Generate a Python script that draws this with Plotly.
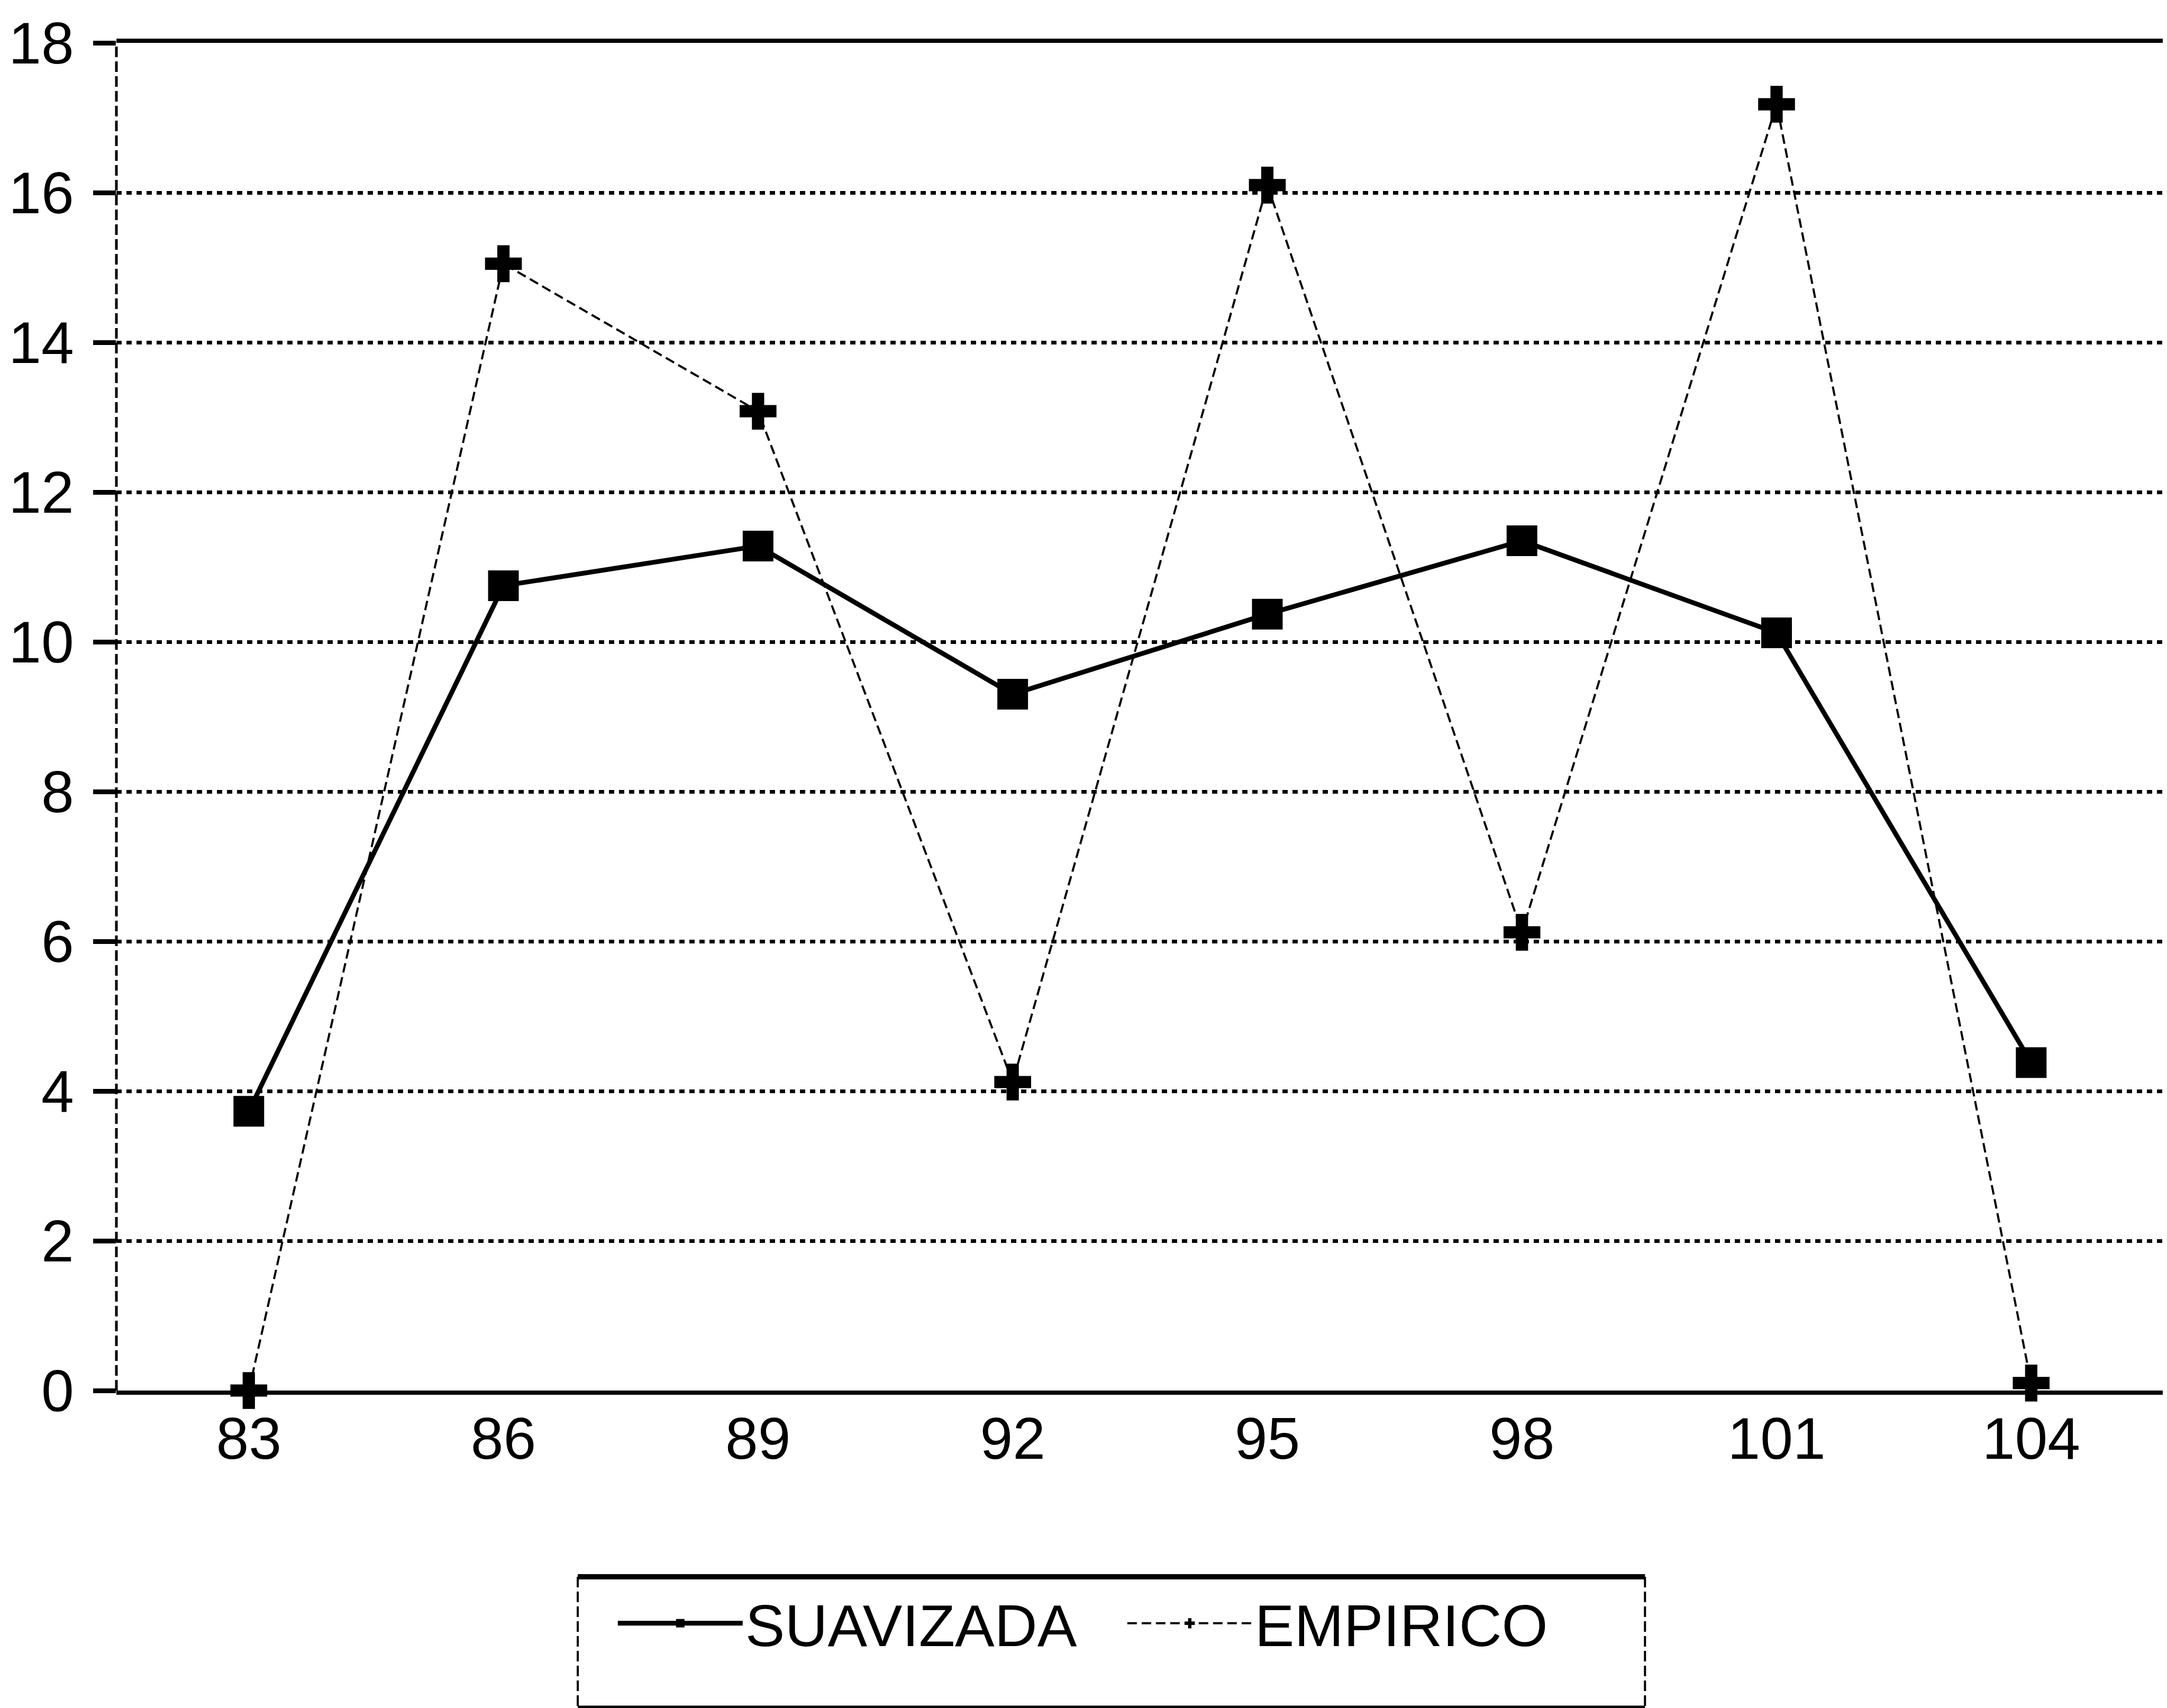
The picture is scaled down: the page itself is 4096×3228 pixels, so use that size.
import plotly.graph_objects as go

# ---- data ----
periodos = [83, 86, 89, 92, 95, 98, 101, 104]
suavizada = [3.73, 10.75, 11.28, 9.3, 10.37, 11.35, 10.12, 4.38]
empirico = [0.0, 15.05, 13.08, 4.12, 16.1, 6.12, 17.18, 0.1]
y_ticks = [0, 2, 4, 6, 8, 10, 12, 14, 16, 18]
x_ticks = [83, 86, 89, 92, 95, 98, 101, 104]
nombres = ["SUAVIZADA", "EMPIRICO"]

W, H = 4096, 3228
ML, MR, MT, MB = 199, 8, 73, 608
FONT = "Liberation Sans, Arial, Helvetica, sans-serif"

fig = go.Figure()
fig.add_trace(go.Scatter(
    x=periodos, y=suavizada, name=nombres[0], mode="lines+markers",
    line=dict(color="black", width=9),
    marker=dict(symbol="square", size=58, color="black"),
    cliponaxis=False,
))
fig.add_trace(go.Scatter(
    x=periodos, y=empirico, name=nombres[1], mode="lines+markers",
    line=dict(color="black", width=4, dash="18px,9px"),
    marker=dict(symbol="cross", size=58, color="black"),
    cliponaxis=False,
))

pw = W - ML - MR
ph = H - MT - MB

def px_x(p):
    return (p - ML) / pw

def px_y(p):
    return (H - MB - p) / ph

shapes = []
# dashed left / right frame
for xx in (0, 1):
    shapes.append(dict(type="line", xref="paper", yref="paper", x0=xx, x1=xx, y0=0, y1=1,
                       line=dict(color="black", width=5, dash="20px,8px"), layer="above"))
# legend box
lx0, lx1 = px_x(1074), px_x(3098)
ly0, ly1 = px_y(2972), px_y(3220)
shapes.append(dict(type="line", xref="paper", yref="paper", x0=lx0, x1=lx1, y0=ly0, y1=ly0,
                   line=dict(color="black", width=10)))
shapes.append(dict(type="line", xref="paper", yref="paper", x0=lx0, x1=lx1, y0=ly1, y1=ly1,
                   line=dict(color="black", width=9)))
for xx in (lx0, lx1):
    shapes.append(dict(type="line", xref="paper", yref="paper", x0=xx, x1=xx, y0=ly0, y1=ly1,
                       line=dict(color="black", width=4, dash="20px,8px")))

fig.update_layout(
    width=W, height=H,
    margin=dict(l=ML, r=MR, t=MT, b=MB, pad=0),
    paper_bgcolor="white", plot_bgcolor="white",
    font=dict(family=FONT, size=111, color="black"),
    showlegend=True,
    legend=dict(
        orientation="h", x=px_x(1145), xanchor="left", y=px_y(3060), yanchor="middle",
        font=dict(family=FONT, size=112, color="black"),
        bgcolor="rgba(0,0,0,0)", borderwidth=0, itemwidth=236,
        entrywidth=712, entrywidthmode="pixels",
    ),
    shapes=shapes,
    xaxis=dict(
        range=[81.44, 105.6], tickmode="array", tickvals=x_ticks,
        ticktext=[str(v) for v in x_ticks],
        showgrid=False, zeroline=False,
        showline=True, linecolor="black", linewidth=8, mirror=True,
        ticks="", ticklabelstandoff=-12,
        tickfont=dict(family=FONT, size=111, color="black"),
    ),
    yaxis=dict(
        range=[0, 18], tickmode="array", tickvals=y_ticks,
        ticktext=[str(v) for v in y_ticks],
        showgrid=True, gridcolor="black", gridwidth=7, griddash="10px,9px",
        zeroline=False, showline=False,
        ticks="outside", ticklen=43, tickwidth=9, tickcolor="black",
        ticklabelstandoff=14,
        tickfont=dict(family=FONT, size=111, color="black"),
    ),
)

fig.write_html("out.html")
